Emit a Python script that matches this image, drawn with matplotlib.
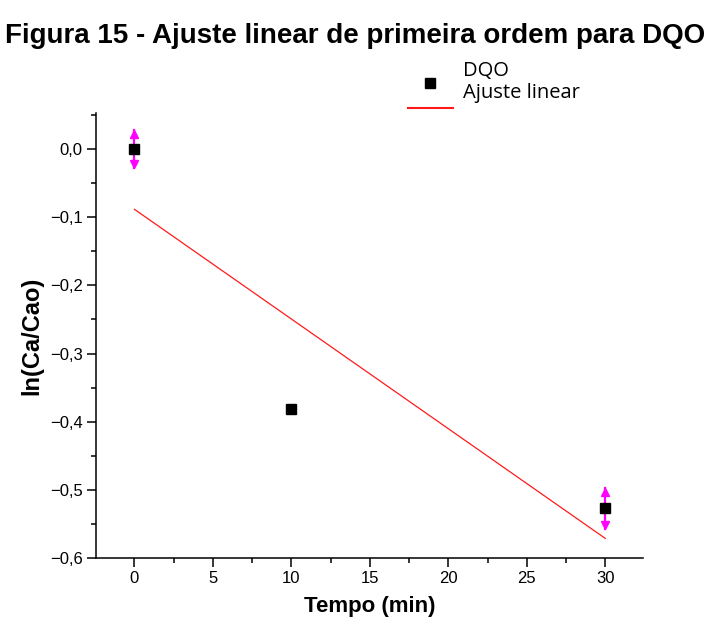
import numpy as np
import matplotlib.pyplot as plt
from matplotlib.lines import Line2D
from matplotlib.ticker import MultipleLocator, FuncFormatter

plt.rcParams['font.family'] = ['Liberation Sans', 'DejaVu Sans']

tempo = [0, 10, 30]
ln_ratio = [0.0, -0.382, -0.527]
erro = [0.028, 0.0, 0.030]

# ajuste linear de primeira ordem
coef = np.polyfit(tempo, ln_ratio, 1)
x_fit = np.array([0, 30])
y_fit = np.polyval(coef, x_fit)

fig = plt.figure(figsize=(7.08, 6.26), dpi=100)
ax = fig.add_axes([0.1356, 0.1086, 0.7725, 0.711])

ax.plot(x_fit, y_fit, color='#ff1a1a', lw=0.9, zorder=2)

# barras de erro (estilo Origin, com setas)
for x, y, e in zip(tempo, ln_ratio, erro):
    if e > 0:
        ax.plot([x, x], [y - e, y + e], color='#ff00ff', lw=1.6, zorder=3)
        ax.plot(x, y + e - 0.006, marker='^', color='#ff00ff', ms=5.5, zorder=3)
        ax.plot(x, y - e + 0.006, marker='v', color='#ff00ff', ms=5.5, zorder=3)

ax.plot(tempo, ln_ratio, 's', color='black', ms=7.5, zorder=4)

ax.set_xlim(-2.45, 32.4)
ax.set_ylim(-0.6, 0.053)
ax.xaxis.set_major_locator(MultipleLocator(5))
ax.xaxis.set_minor_locator(MultipleLocator(2.5))
ax.yaxis.set_major_locator(MultipleLocator(0.1))
ax.yaxis.set_minor_locator(MultipleLocator(0.05))

def fmt_y(v, pos):
    s = '%.1f' % v
    if s == '-0.0':
        s = '0.0'
    return s.replace('.', ',').replace('-', '\u2212')

ax.yaxis.set_major_formatter(FuncFormatter(fmt_y))
ax.xaxis.set_major_formatter(FuncFormatter(lambda v, p: '%d' % v))

for s in ['top', 'right']:
    ax.spines[s].set_visible(False)
for s in ['left', 'bottom']:
    ax.spines[s].set_linewidth(1.1)

ax.tick_params(which='major', direction='out', length=6.5, width=1.1,
               labelsize=12, pad=3)
ax.tick_params(which='minor', direction='out', length=3.5, width=1.1)

ax.set_xlabel('Tempo (min)', fontsize=16, fontweight='bold', labelpad=7)
ax.set_ylabel('ln(Ca/Cao)', fontsize=17, fontweight='bold', labelpad=5)

fig.text(355 / 708, 1 - 43 / 626,
         'Figura 15 - Ajuste linear de primeira ordem para DQO',
         ha='center', va='baseline', fontsize=20, fontweight='bold')

# legenda
fig.text(463 / 708, 1 - 76 / 626, 'DQO', ha='left', va='baseline',
         fontsize=14.5, family='Open Sans')
fig.text(463 / 708, 1 - 98 / 626, 'Ajuste linear', ha='left', va='baseline',
         fontsize=14.5, family='Open Sans')
fig.add_artist(Line2D([430 / 708], [1 - 83 / 626], marker='s', color='black',
                      ms=6.5, transform=fig.transFigure))
fig.add_artist(Line2D([408 / 708, 453 / 708], [1 - 108 / 626, 1 - 108 / 626],
                      color='#ff1a1a', lw=1.5, transform=fig.transFigure))

fig.savefig('out.png', dpi=100)
